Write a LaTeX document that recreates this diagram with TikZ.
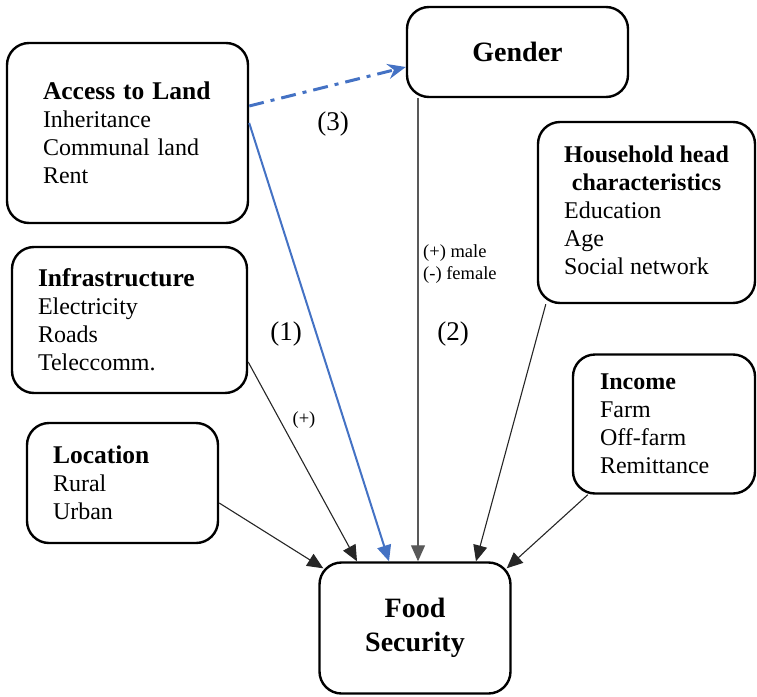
\documentclass[tikz,border=0pt]{standalone}
\usepackage{fontspec}
\setmainfont{Liberation Serif}
\usetikzlibrary{arrows.meta}
\definecolor{landblue}{RGB}{68,114,196}
\newcommand{\ttl}[2][25.5]{{\fontsize{#1}{28}\selectfont\bfseries #2}}

\begin{document}
\begin{tikzpicture}[x=1pt,y=-1pt,>={Triangle[length=16pt,width=14pt]}]
	\tikzstyle{factor}=[draw,line width=2.4pt,rounded corners=22pt,inner sep=0pt,align=left,font=\fontsize{24}{28}\selectfont]
	\tikzstyle{goal}=[factor,align=center,font=\fontsize{28}{34}\selectfont\bfseries]
	\tikzstyle{effect}=[->,line width=1.1pt,black!85]
	\tikzstyle{landeffect}=[->,line width=2pt,landblue]
	\tikzstyle{tag}=[font=\fontsize{27}{30}\selectfont]
	\tikzstyle{sign}=[font=\fontsize{18.5}{22}\selectfont,align=left,inner sep=2pt]

	\useasboundingbox (0,0) rectangle (757,696);

	% factors
	\node[factor,minimum width=241pt,minimum height=180pt,text width=169pt] (land) at (127.5,133)
		{\ttl{Access to Land}\\Inheritance\\Communal land\\Rent};
	\node[goal,minimum width=221pt,minimum height=90pt] (gender) at (517.5,52) {Gender};
	\node[factor,minimum width=217pt,minimum height=181pt] (household) at (646.5,212.5)
		{\begin{tabular}{@{}l@{}}
			\multicolumn{1}{@{}c@{}}{\ttl[24]{Household head}}\\
			\multicolumn{1}{@{}c@{}}{\ttl[24]{characteristics}}\\
			Education\\Age\\Social network
		\end{tabular}};
	\node[factor,minimum width=235pt,minimum height=146pt,text width=183pt] (infra) at (129.5,320)
		{\ttl{Infrastructure}\\Electricity\\Roads\\Teleccomm.};
	\node[factor,minimum width=182pt,minimum height=139pt,text width=128pt] (income) at (664,424)
		{\ttl[24]{Income}\\Farm\\Off-farm\\Remittance};
	\node[factor,minimum width=191pt,minimum height=120pt,text width=139pt] (location) at (122.5,483)
		{\ttl{Location}\\Rural\\Urban};
	\node[goal,minimum width=191pt,minimum height=131pt] (food) at (415,628) {Food\\Security};

	% effects on food security
	\draw[effect] ([yshift=-42pt]infra.east) -- ([xshift=-58pt]food.north);
	\draw[effect] ([yshift=-20pt]location.east) -- ([xshift=5pt,yshift=-7pt]food.north west);
	\draw[effect,black!65] ([xshift=-99.5pt]gender.south) -- ([xshift=3pt]food.north);
	\draw[effect] ([xshift=9pt]household.south west) -- ([xshift=61pt]food.north);
	\draw[effect] ([xshift=16pt]income.south west) -- ([xshift=-5pt,yshift=-7pt]food.north east);
	\draw[landeffect] ([yshift=10pt]land.east) -- ([xshift=-26pt]food.north);
	\draw[landeffect,line width=3pt,dash pattern=on 15pt off 7pt on 4pt off 7pt,>={Stealth[length=18pt,width=15pt]}]
		([yshift=27pt]land.east) -- ([yshift=-15pt]gender.west);

	% labels
	\node[tag] (three) at (333,124) {(3)};
	\node[tag] (one) at (286,334) {(1)};
	\node[tag] (two) at (453,334) {(2)};
	\node[sign,anchor=west] (gendersign) at (421,264) {(+) male\\(-) female};
	\node[sign] (infrasign) at (304,420) {(+)};
\end{tikzpicture}
\end{document}
